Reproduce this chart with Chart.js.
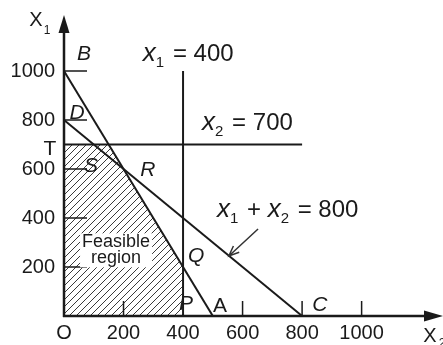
<!DOCTYPE html>
<html lang="en">
<head>
<meta charset="UTF-8">
<title>Feasible region</title>
<style>
  html, body { margin: 0; padding: 0; background: #fff; }
  .chart-box { position: relative; width: 443px; height: 345px; }
</style>
</head>
<body>
<div class="chart-box"><canvas id="lpChart"></canvas></div>

<script src="https://cdn.jsdelivr.net/npm/chart.js"></script>
<script>
// x2 runs along the horizontal axis, x1 up the vertical one
const lineBA_x2 = [0, 500];
const lineBA_x1 = [1000, 0];
const lineDC_x2 = [0, 800];
const lineDC_x1 = [800, 0];
const line400_x2 = [400, 400];
const line400_x1 = [0, 1000];
const line700_x2 = [0, 800];
const line700_x1 = [700, 700];
// corners O, T, S, Q, P of the shaded region
const region_x2 = [0, 0, 150, 400, 400];
const region_x1 = [0, 700, 700, 200, 0];
// axis ticks
const tickValues = [200, 400, 600, 800, 1000];
const xTickMarks = [200, 600, 800, 1000];

const ink = '#1a1a1a';
const fam = '"Liberation Sans", Arial, sans-serif';

function pts(xs, ys) {
    return xs.map((v, i) => ({ x: v, y: ys[i] }));
}

// diagonal hatching for the feasible region
function makeHatch() {
    const c = document.createElement('canvas');
    c.width = 7; c.height = 7;
    const g = c.getContext('2d');
    g.strokeStyle = '#3a3a3a';
    g.lineWidth = 1;
    g.beginPath();
    g.moveTo(-1, 8); g.lineTo(8, -1);
    g.moveTo(-1, 1); g.lineTo(1, -1);
    g.moveTo(6, 8); g.lineTo(8, 6);
    g.stroke();
    return g.createPattern(c, 'repeat');
}

// point labels (data coordinates: x2, x1)
const pointLabels = [
    { t: 'B', x2: 67, x1: 1069, italic: true },
    { t: 'D', x2: 44, x1: 829, italic: true },
    { t: 'T', x2: -47, x1: 682, italic: false },
    { t: 'S', x2: 91, x1: 612, italic: true },
    { t: 'R', x2: 282, x1: 596, italic: true },
    { t: 'Q', x2: 444, x1: 245, italic: true },
    { t: 'P', x2: 410, x1: 49, italic: true },
    { t: 'A', x2: 524, x1: 41, italic: false },
    { t: 'C', x2: 860, x1: 45, italic: true }
];

// equation labels, left edge + baseline
const eqLabels = [
    { x2: 265, x1: 1041, runs: [['x', 'x'], ['1', 's'], [' = 400', 'n']] },
    { x2: 464, x1: 759, runs: [['x', 'x'], ['2', 's'], [' = 700', 'n']] },
    { x2: 514, x1: 404, runs: [['x', 'x'], ['1', 's'], [' + ', 'n'], ['x', 'x'], ['2', 's'], [' = 800', 'n']] }
];

const runFonts = {
    x: 'italic 26px ' + fam,
    s: '15px ' + fam,
    n: '24px ' + fam
};

function drawRuns(ctx, runs, x, y) {
    ctx.textAlign = 'left';
    ctx.textBaseline = 'alphabetic';
    for (const [t, kind] of runs) {
        ctx.font = runFonts[kind];
        ctx.fillText(t, x, kind === 's' ? y + 6 : y);
        x += ctx.measureText(t).width + (kind === 's' ? 2 : 0);
    }
}

const sketchPlugin = {
    id: 'sketch',
    afterDatasetsDraw(chart) {
        const ctx = chart.ctx;
        const sx = chart.scales.x, sy = chart.scales.y;
        const area = chart.chartArea;
        const ox = sx.getPixelForValue(0), oy = sy.getPixelForValue(0);
        const px = v => sx.getPixelForValue(v);
        const py = v => sy.getPixelForValue(v);

        ctx.save();
        ctx.strokeStyle = ink;
        ctx.fillStyle = ink;

        // axes with arrow heads
        ctx.lineWidth = 2.5;
        ctx.beginPath();
        ctx.moveTo(ox, oy + 1);
        ctx.lineTo(ox, area.top + 6);
        ctx.moveTo(ox - 1, oy);
        ctx.lineTo(area.right - 10, oy);
        ctx.stroke();
        ctx.beginPath();
        ctx.moveTo(ox, area.top - 7);
        ctx.lineTo(ox - 5.5, area.top + 11);
        ctx.lineTo(ox + 5.5, area.top + 11);
        ctx.closePath();
        ctx.fill();
        ctx.beginPath();
        ctx.moveTo(area.right + 4, oy);
        ctx.lineTo(area.right - 15, oy - 5.5);
        ctx.lineTo(area.right - 15, oy + 5.5);
        ctx.closePath();
        ctx.fill();

        // short tick marks inside the axes
        ctx.lineWidth = 1.5;
        ctx.beginPath();
        for (const v of tickValues) {
            ctx.moveTo(ox, py(v));
            ctx.lineTo(ox + 23, py(v));
        }
        for (const v of xTickMarks) {
            ctx.moveTo(px(v), oy);
            ctx.lineTo(px(v), oy - 15);
        }
        ctx.stroke();

        // axis names
        ctx.textAlign = 'center';
        ctx.textBaseline = 'middle';
        ctx.font = '20px ' + fam;
        ctx.fillText('X', ox - 28, area.top - 2);
        ctx.fillText('X', area.right - 9, oy + 20);
        ctx.font = '12px ' + fam;
        ctx.fillText('1', ox - 17, area.top + 9);
        ctx.fillText('2', area.right + 3, oy + 28);

        // corner letters
        for (const l of pointLabels) {
            ctx.font = (l.italic ? 'italic ' : '') + '21px ' + fam;
            ctx.fillText(l.t, px(l.x2), py(l.x1));
        }

        // region caption on a white patch
        ctx.font = '18px ' + fam;
        const cx = px(175), cy = py(264);
        const w = ctx.measureText('Feasible').width + 4;
        ctx.fillStyle = '#fff';
        ctx.fillRect(cx - w / 2, cy - 18, w, 34);
        ctx.fillStyle = ink;
        ctx.fillText('Feasible', cx, cy - 9);
        ctx.fillText('region', cx, cy + 7);

        // equations
        for (const e of eqLabels) {
            drawRuns(ctx, e.runs, px(e.x2), py(e.x1));
        }

        // pointer to x1 + x2 = 800
        const ax = px(652), ay = py(355), bx = px(554), by = py(245);
        const ang = Math.atan2(by - ay, bx - ax);
        ctx.strokeStyle = '#333';
        ctx.lineWidth = 1.5;
        ctx.beginPath();
        ctx.moveTo(ax, ay);
        ctx.lineTo(bx, by);
        ctx.moveTo(bx - 11 * Math.cos(ang - 0.4), by - 11 * Math.sin(ang - 0.4));
        ctx.lineTo(bx, by);
        ctx.lineTo(bx - 11 * Math.cos(ang + 0.4), by - 11 * Math.sin(ang + 0.4));
        ctx.stroke();

        ctx.restore();
    }
};

const lineStyle = {
    showLine: true,
    borderColor: ink,
    borderWidth: 2,
    pointRadius: 0,
    pointHoverRadius: 0,
    fill: false,
    tension: 0,
    clip: false
};

const config = {
    type: 'scatter',
    data: {
        datasets: [
            { label: 'BA', data: pts(lineBA_x2, lineBA_x1), ...lineStyle, order: 1 },
            { label: 'x1 + x2 = 800', data: pts(lineDC_x2, lineDC_x1), ...lineStyle, order: 1 },
            { label: 'x1 = 400', data: pts(line400_x2, line400_x1), ...lineStyle, order: 1 },
            { label: 'x2 = 700', data: pts(line700_x2, line700_x1), ...lineStyle, order: 1 },
            {
                label: 'Feasible region',
                data: pts(region_x2, region_x1),
                showLine: true,
                borderColor: 'rgba(0,0,0,0)',
                borderWidth: 1,
                backgroundColor: makeHatch(),
                fill: 'origin',
                pointRadius: 0,
                tension: 0,
                order: 5
            }
        ]
    },
    options: {
        responsive: true,
        maintainAspectRatio: false,
        animation: false,
        layout: { padding: { top: 22, right: 4, left: 0, bottom: 0 } },
        plugins: {
            legend: { display: false },
            tooltip: { enabled: false }
        },
        scales: {
            x: {
                type: 'linear',
                min: 0,
                max: 1260,
                grid: { display: false, drawTicks: false },
                border: { display: false },
                afterBuildTicks: s => { s.ticks = [0, ...tickValues].map(v => ({ value: v })); },
                afterFit: s => { s.height = 29; },
                ticks: {
                    color: ink,
                    padding: 5,
                    maxRotation: 0,
                    font: { family: fam, size: 20 },
                    callback: v => v === 0 ? 'O' : String(v)
                }
            },
            y: {
                type: 'linear',
                min: 0,
                max: 1200,
                grid: { display: false, drawTicks: false },
                border: { display: false },
                afterBuildTicks: s => { s.ticks = tickValues.map(v => ({ value: v })); },
                afterFit: s => { s.width = 64; },
                ticks: {
                    color: ink,
                    padding: 9,
                    font: { family: fam, size: 20 },
                    callback: v => String(v)
                }
            }
        }
    },
    plugins: [sketchPlugin]
};

const lpChart = new Chart(document.getElementById('lpChart'), config);
</script>
</body>
</html>
